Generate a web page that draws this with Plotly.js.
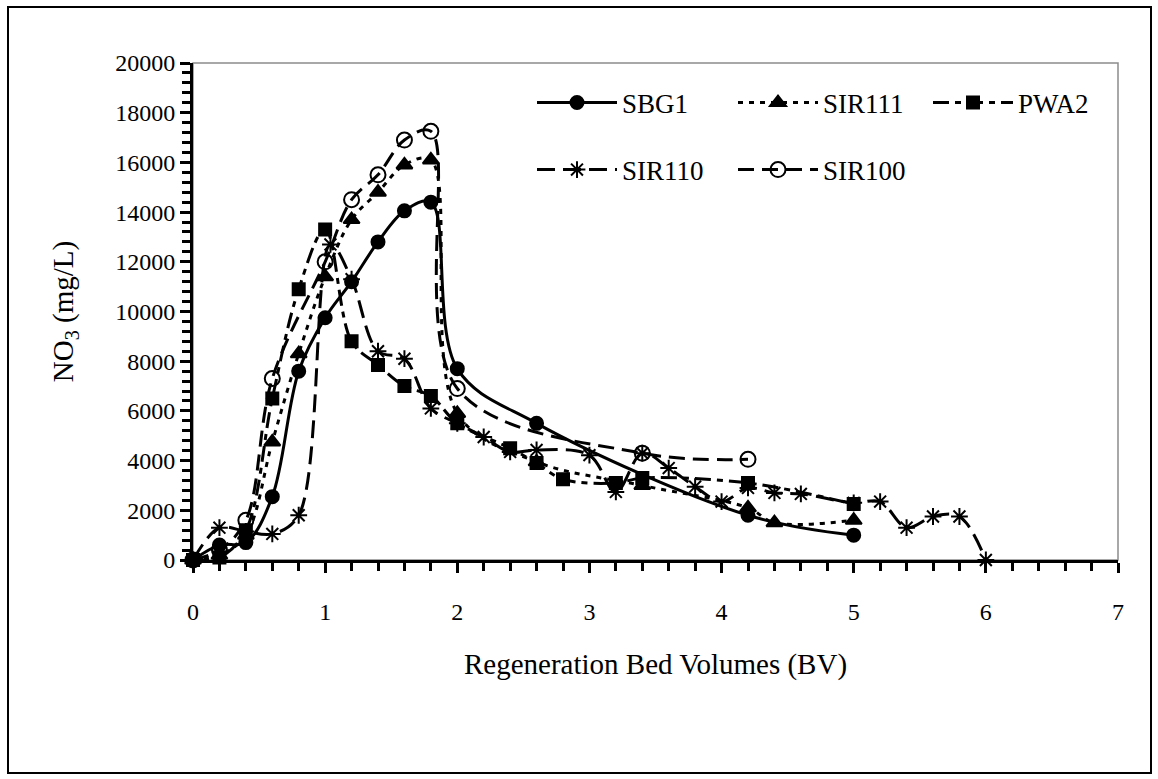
<!DOCTYPE html>
<html><head><meta charset="utf-8">
<script src="https://cdn.plot.ly/plotly-3.0.1.min.js"></script>
<style>
html,body{margin:0;padding:0;background:#fff;}
#chart{width:1158px;height:779px;}
#frame{position:absolute;left:7px;top:6px;width:1141px;height:764px;border:2px solid #000;pointer-events:none;}
</style>
</head><body>
<div id="chart"></div><div id="frame"></div>
<script>
// Regeneration bed volumes (BV) and NO3 (mg/L) per resin
const sbg1X = [0,0.2,0.4,0.6,0.8,1.0,1.2,1.4,1.6,1.8,2.0,2.6,4.2,5.0];
const sbg1Y = [0,600,700,2550,7600,9750,11200,12800,14050,14400,7700,5500,1800,1000];

const sir111X = [0,0.2,0.4,0.6,0.8,1.0,1.2,1.4,1.6,1.8,2.0,2.6,3.4,4.2,4.4,5.0];
const sir111Y = [0,200,1000,4750,8300,11400,13700,14800,15900,16100,5900,3950,3000,2100,1500,1600];

const pwa2X = [0,0.2,0.4,0.6,0.8,1.0,1.2,1.4,1.6,1.8,2.0,2.4,2.6,2.8,3.2,3.4,4.2,5.0];
const pwa2Y = [0,100,1200,6500,10900,13300,8800,7850,7000,6600,5500,4500,3900,3250,3100,3300,3100,2250];

const sir110X = [0,0.2,0.4,0.6,0.8,1.04,1.2,1.4,1.6,1.8,2.0,2.2,2.4,2.6,3.0,3.2,3.4,3.6,3.8,4.0,4.2,4.4,4.6,5.0,5.2,5.4,5.6,5.8,6.0];
const sir110Y = [0,1300,1150,1050,1800,12700,11300,8400,8100,6100,5500,4950,4350,4430,4220,2740,4300,3700,2950,2350,2900,2700,2660,2300,2350,1300,1750,1750,0];

const sir100X = [0,0.2,0.4,0.6,1.0,1.2,1.4,1.6,1.8,2.0,3.4,4.2];
const sir100Y = [0,400,1600,7300,12000,14500,15500,16900,17250,6900,4300,4050];

const seriesNames = ['SBG1','SIR111','PWA2','SIR110','SIR100'];
const xTitle = 'Regeneration Bed Volumes (BV)';
const yTitle = 'NO<sub>3</sub> (mg/L)';

const FONT = "'Liberation Serif', 'Times New Roman', serif";
const BLACK = '#000000';

function mk(name, xs, ys, dash, symbol, size, legend) {
  return {
    type: 'scatter', mode: 'lines+markers', name: name, x: xs, y: ys,
    line: {color: BLACK, width: 3, dash: dash, shape: 'spline', smoothing: 1},
    marker: {symbol: symbol, size: size, color: BLACK, line: {color: BLACK, width: 2}},
    cliponaxis: false, legend: legend
  };
}

const traces = [
  mk(seriesNames[0], sbg1X, sbg1Y, 'solid', 'circle', 13, 'legend'),
  mk(seriesNames[1], sir111X, sir111Y, '5px,6px', 'triangle-up', 14, 'legend2'),
  mk(seriesNames[2], pwa2X, pwa2Y, '16px,6px,6px,6px', 'square', 12, 'legend3'),
  mk(seriesNames[3], sir110X, sir110Y, '18px,8px', 'asterisk-open', 14, 'legend4'),
  mk(seriesNames[4], sir100X, sir100Y, '16px,8px', 'circle-open', 15, 'legend5')
];

const axisCommon = {
  showgrid: false, zeroline: false, showline: true, linecolor: BLACK, linewidth: 3,
  ticks: 'outside', ticklen: 10, tickwidth: 3, tickcolor: BLACK,
  tickfont: {family: FONT, size: 24, color: BLACK}
};

function leg(xpx, ypx) {
  return {
    orientation: 'v', xref: 'paper', yref: 'paper', xanchor: 'left', yanchor: 'middle',
    x: (xpx - 193) / 925, y: (560 - ypx) / 497,
    itemwidth: 80,
    font: {family: FONT, size: 27, color: BLACK}, bgcolor: 'rgba(0,0,0,0)', borderwidth: 0
  };
}

const layout = {
  width: 1158, height: 779,
  margin: {l: 193, r: 40, t: 63, b: 219},
  paper_bgcolor: '#ffffff', plot_bgcolor: '#ffffff',
  font: {family: FONT, color: BLACK},
  xaxis: Object.assign({}, axisCommon, {
    range: [0, 7], tick0: 0, dtick: 1, ticklabelstandoff: 18,
    minor: {dtick: 0.2, ticks: 'outside', ticklen: 8, tickwidth: 3, tickcolor: BLACK},
    title: {text: xTitle, font: {family: FONT, size: 29, color: BLACK}, standoff: 30}
  }),
  yaxis: Object.assign({}, axisCommon, {
    range: [0, 20000], tick0: 0, dtick: 2000, tickformat: 'd',
    minor: {dtick: 400, ticks: 'outside', ticklen: 8, tickwidth: 3, tickcolor: BLACK},
    title: {text: yTitle, font: {family: FONT, size: 29, color: BLACK}, standoff: 34}
  }),
  xaxis2: {overlaying: 'x', anchor: 'y', range: [0, 7], tick0: 0, dtick: 1, ticks: 'inside', ticklen: 10, tickwidth: 3, tickcolor: BLACK, showticklabels: false, showline: false, showgrid: false, zeroline: false},
  yaxis2: {overlaying: 'y', anchor: 'x', range: [0, 20000], tick0: 0, dtick: 2000, ticks: 'inside', ticklen: 10, tickwidth: 3, tickcolor: BLACK, showticklabels: false, showline: false, showgrid: false, zeroline: false},
  legend: leg(532, 103),
  legend2: leg(733, 103),
  legend3: leg(928, 103),
  legend4: leg(532, 170),
  legend5: leg(733, 170),
  shapes: [{type: 'rect', xref: 'paper', yref: 'paper', x0: 0, x1: 1, y0: 0, y1: 1, line: {color: '#8c8c8c', width: 1.5}, layer: 'below'}],
  showlegend: true
};

Plotly.newPlot('chart', traces, layout, {displayModeBar: false, staticPlot: true});
</script>
</body></html>
